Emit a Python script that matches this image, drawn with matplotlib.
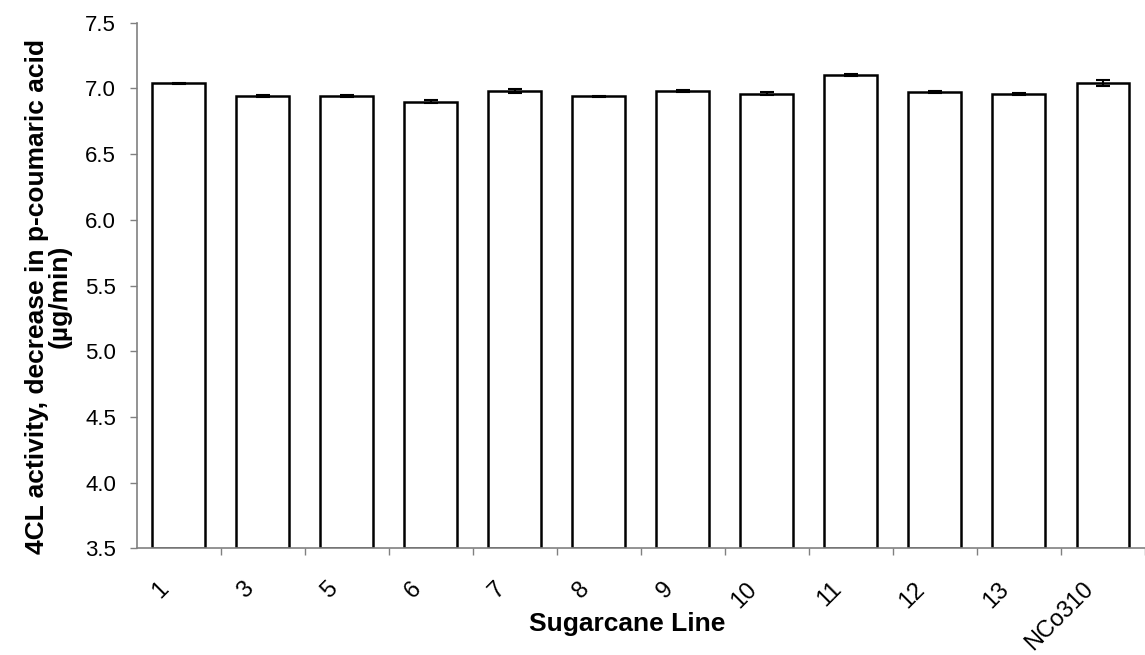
import matplotlib
matplotlib.use("Agg")
import matplotlib.pyplot as plt
from matplotlib.transforms import ScaledTranslation
import numpy as np

lines = ["1", "3", "5", "6", "7", "8", "9", "10", "11", "12", "13", "NCo310"]
activity = [7.04, 6.94, 6.94, 6.90, 6.98, 6.94, 6.98, 6.96, 7.10, 6.97, 6.96, 7.04]
activity_err = [0.005, 0.008, 0.008, 0.012, 0.012, 0.003, 0.008, 0.012, 0.008, 0.008, 0.008, 0.022]
y_ticks = [3.5, 4.0, 4.5, 5.0, 5.5, 6.0, 6.5, 7.0, 7.5]

plt.rcParams["font.family"] = ["Liberation Sans", "DejaVu Sans"]

fig = plt.figure(figsize=(11.45, 6.55), dpi=100)
ax = fig.add_axes([0.1194, 0.1629, 0.8806, 0.8024])

x = np.arange(len(lines))
ax.bar(x, [v - 3.5 for v in activity], bottom=3.5, width=0.63,
       color="white", edgecolor="black", linewidth=1.8, zorder=2)
ax.errorbar(x, activity, yerr=activity_err, fmt="none", ecolor="black",
            elinewidth=1.5, capsize=5, capthick=1.5, zorder=3)

ax.set_xlim(-0.5, len(lines) - 0.5)
ax.set_ylim(3.5, 7.5)
ax.set_yticks(y_ticks)
ax.set_yticklabels([f"{t:.1f}" for t in y_ticks])

# category labels at bar centres, tick marks between categories
ax.set_xticks(x)
ax.set_xticklabels(lines, rotation=45, ha="right", va="center",
                   rotation_mode="anchor")
ax.set_xticks(np.arange(len(lines)) + 0.5, minor=True)
ax.tick_params(axis="x", which="major", length=0, pad=27, labelsize=17)
ax.tick_params(axis="x", which="minor", length=5, width=1, color="#808080",
               direction="out")
ax.tick_params(axis="y", length=5, width=1, color="#808080", pad=10,
               labelsize=16)
shift = ScaledTranslation(-0.13, 0, fig.dpi_scale_trans)
for lbl in ax.get_xticklabels():
    lbl.set_transform(lbl.get_transform() + shift)

for side in ("top", "right"):
    ax.spines[side].set_visible(False)
for side in ("left", "bottom"):
    ax.spines[side].set_color("#808080")
    ax.spines[side].set_linewidth(1.2)

ax.set_xlabel("Sugarcane Line", fontsize=19, fontweight="bold")
ax.xaxis.set_label_coords(0.486, -0.122)
ax.set_ylabel("4CL activity, decrease in p-coumaric acid\n(\u00b5g/min)",
              fontsize=19, fontweight="bold", linespacing=0.95)
ax.yaxis.set_label_coords(-0.0645, 0.48)

fig.savefig("out.png", dpi=100)
